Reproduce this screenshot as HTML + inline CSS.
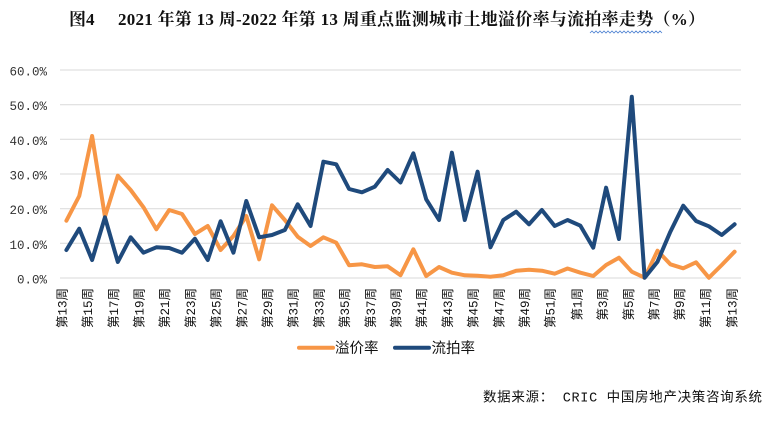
<!DOCTYPE html>
<html>
<head>
<meta charset="utf-8">
<style>
html,body{margin:0;padding:0;background:#fff;}
svg{display:block;}
</style>
</head>
<body>
<svg width="770" height="423" viewBox="0 0 770 423" xmlns="http://www.w3.org/2000/svg">
<rect width="770" height="423" fill="#fff"/>
<!-- title -->
<text x="69" y="25" font-family="'Liberation Serif','Noto Serif CJK SC',serif" font-weight="bold" font-size="17" fill="#111">图4</text>
<text x="118" y="25" font-family="'Liberation Serif','Noto Serif CJK SC',serif" font-weight="bold" font-size="17" fill="#111" textLength="587" lengthAdjust="spacing">2021 年第 13 周-2022 年第 13 周重点监测城市土地溢价率与流拍率走势（%）</text>
<path d="M590 33 l2 -2 l2 2 l2 -2 l2 2 l2 -2 l2 2 l2 -2 l2 2 l2 -2 l2 2 l2 -2 l2 2 l2 -2 l2 2 l2 -2 l2 2 l2 -2 l2 2 l2 -2 l2 2 l2 -2 l2 2 l2 -2 l2 2 l2 -2 l2 2 l2 -2 l2 2 l2 -2 l2 2 l2 -2 l2 2 l2 -2 l2 2 l2 -2 l2 2" fill="none" stroke="#4a7fd0" stroke-width="0.8"/>
<!-- gridlines -->
<g stroke="#d9d9d9" stroke-width="1">
<line x1="60" y1="70" x2="741" y2="70"/>
<line x1="60" y1="104.7" x2="741" y2="104.7"/>
<line x1="60" y1="139.3" x2="741" y2="139.3"/>
<line x1="60" y1="174" x2="741" y2="174"/>
<line x1="60" y1="208.7" x2="741" y2="208.7"/>
<line x1="60" y1="243.3" x2="741" y2="243.3"/>
<line x1="60" y1="278" x2="741" y2="278"/>
</g>
<!-- y labels -->
<g font-family="'Liberation Mono',monospace" font-size="12.5" fill="#333" text-anchor="end">
<text x="47" y="75.5">60.0%</text>
<text x="47" y="110.2">50.0%</text>
<text x="47" y="144.8">40.0%</text>
<text x="47" y="179.5">30.0%</text>
<text x="47" y="214.2">20.0%</text>
<text x="47" y="248.8">10.0%</text>
<text x="47" y="283.5">0.0%</text>
</g>
<!-- series -->
<polyline fill="none" stroke="#F79646" stroke-width="4" stroke-linejoin="round" stroke-linecap="round" points="66.4,220.7 79.25,196 92.1,136 104.95,216.7 117.8,175.7 130.65,190 143.5,207.3 156.35,229.3 169.2,210 182.05,214 194.9,234 207.75,226 220.6,250 233.45,236 246.3,216 259.15,259.3 272,205.3 284.85,220 297.7,236.7 310.55,246 323.4,237.3 336.25,242.7 349.1,265.3 361.95,264.3 374.8,267 387.65,266.3 400.5,275.2 413.35,249.3 426.2,276 439.05,267 451.9,272.7 464.75,275.3 477.6,275.7 490.45,276.7 503.3,275.3 516.15,270.7 529,269.7 541.85,270.7 554.7,273.7 567.55,268.5 580.4,272.7 593.25,276 606.1,265 618.95,257.7 631.8,271.7 644.65,277.7 657.5,250.7 670.35,264.3 683.2,268.3 696.05,262.3 708.9,277.7 721.75,265 734.6,251.7"/>
<polyline fill="none" stroke="#1F4A7C" stroke-width="4" stroke-linejoin="round" stroke-linecap="round" points="66.4,250 79.25,228.7 92.1,260 104.95,217.3 117.8,262 130.65,237.3 143.5,252.7 156.35,247.3 169.2,248 182.05,252.7 194.9,238.7 207.75,260 220.6,221.3 233.45,252.7 246.3,201 259.15,237.3 272,235 284.85,230 297.7,204.3 310.55,226 323.4,161.7 336.25,164.3 349.1,189 361.95,192.3 374.8,186.7 387.65,170 400.5,182.5 413.35,153.3 426.2,199.3 439.05,220 451.9,152.7 464.75,220 477.6,171.7 490.45,247.3 503.3,220 516.15,211.7 529,224.3 541.85,210 554.7,226 567.55,220 580.4,225.7 593.25,247.7 606.1,187.7 618.95,239 631.8,96.7 644.65,277.7 657.5,261.7 670.35,231.7 683.2,205.7 696.05,221 708.9,226.3 721.75,235 734.6,224.3"/>
<!-- x labels -->
<g font-family="'Liberation Mono','Noto Sans CJK SC',monospace" font-size="12.5" fill="#111" text-anchor="end" dominant-baseline="central">
<text transform="translate(63.4,288) rotate(-90)">第13周</text>
<text transform="translate(89.1,288) rotate(-90)">第15周</text>
<text transform="translate(114.8,288) rotate(-90)">第17周</text>
<text transform="translate(140.5,288) rotate(-90)">第19周</text>
<text transform="translate(166.2,288) rotate(-90)">第21周</text>
<text transform="translate(191.9,288) rotate(-90)">第23周</text>
<text transform="translate(217.6,288) rotate(-90)">第25周</text>
<text transform="translate(243.3,288) rotate(-90)">第27周</text>
<text transform="translate(269,288) rotate(-90)">第29周</text>
<text transform="translate(294.7,288) rotate(-90)">第31周</text>
<text transform="translate(320.4,288) rotate(-90)">第33周</text>
<text transform="translate(346.1,288) rotate(-90)">第35周</text>
<text transform="translate(371.8,288) rotate(-90)">第37周</text>
<text transform="translate(397.5,288) rotate(-90)">第39周</text>
<text transform="translate(423.2,288) rotate(-90)">第41周</text>
<text transform="translate(448.9,288) rotate(-90)">第43周</text>
<text transform="translate(474.6,288) rotate(-90)">第45周</text>
<text transform="translate(500.3,288) rotate(-90)">第47周</text>
<text transform="translate(526,288) rotate(-90)">第49周</text>
<text transform="translate(551.7,288) rotate(-90)">第51周</text>
<text transform="translate(578.4,288) rotate(-90)">第1周</text>
<text transform="translate(604.1,288) rotate(-90)">第3周</text>
<text transform="translate(629.8,288) rotate(-90)">第5周</text>
<text transform="translate(655.5,288) rotate(-90)">第7周</text>
<text transform="translate(681.2,288) rotate(-90)">第9周</text>
<text transform="translate(706.9,288) rotate(-90)">第11周</text>
<text transform="translate(733.6,288) rotate(-90)">第13周</text>
</g>
<!-- legend -->
<line x1="299" y1="347.7" x2="333" y2="347.7" stroke="#F79646" stroke-width="4" stroke-linecap="round"/>
<text x="335" y="353" font-family="'Liberation Sans','Noto Sans CJK SC',sans-serif" font-size="14.5" fill="#111">溢价率</text>
<line x1="395" y1="347.7" x2="429" y2="347.7" stroke="#1F4A7C" stroke-width="4" stroke-linecap="round"/>
<text x="431.5" y="353" font-family="'Liberation Sans','Noto Sans CJK SC',sans-serif" font-size="14.5" fill="#111">流拍率</text>
<!-- source -->
<text x="483" y="401.5" font-family="'Liberation Mono','Noto Sans CJK SC',monospace" font-size="13.5" fill="#111" textLength="279" lengthAdjust="spacing">数据来源： CRIC 中国房地产决策咨询系统</text>
</svg>
</body>
</html>
